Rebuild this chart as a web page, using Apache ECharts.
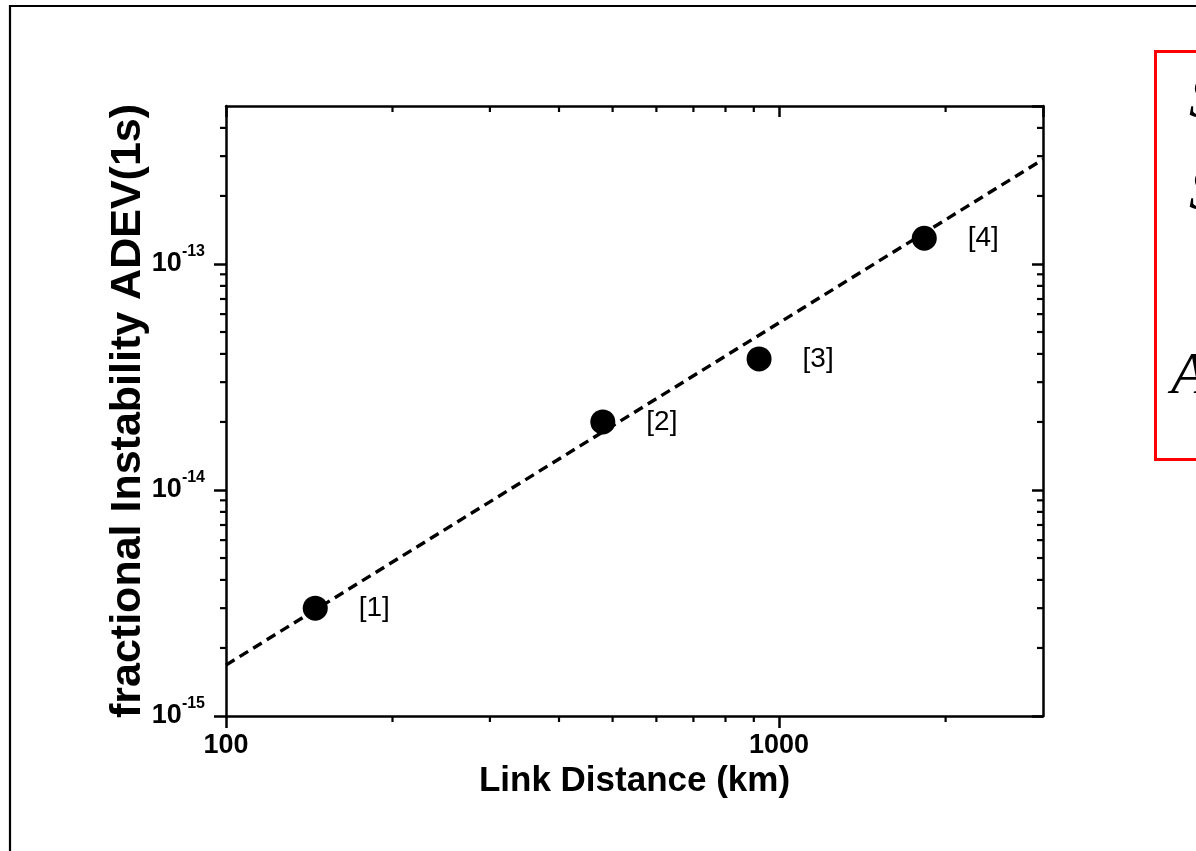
<!DOCTYPE html>
<html>
<head>
<meta charset="utf-8">
<title>Link Distance vs ADEV</title>
<script src="https://cdn.jsdelivr.net/npm/echarts@6/dist/echarts.min.js"></script>
<style>
  html, body { margin: 0; padding: 0; background: #ffffff; }
  #chart { width: 1196px; height: 851px; }
</style>
</head>
<body>
<div id="chart"></div>
<script>
// Measured links: distance (km) and fractional instability at 1 s
const distances = [145, 480, 920, 1830];
const adev = [3.0e-15, 2.0e-14, 3.8e-14, 1.3e-13];
const refLabels = ['[1]', '[2]', '[3]', '[4]'];

// Power-law trend line endpoints
const fitDistance = [100, 3000];
const fitAdev = [1.68e-15, 2.9e-13];

// Axis ranges and tick values
const xRange = [100, 3000];
const yRange = [1e-15, 5e-13];
const xMinorTicks = [200, 300, 400, 500, 600, 700, 800, 900, 2000];
const yMinorTicks = [
  2e-15, 3e-15, 4e-15, 5e-15, 6e-15, 7e-15, 8e-15, 9e-15,
  2e-14, 3e-14, 4e-14, 5e-14, 6e-14, 7e-14, 8e-14, 9e-14,
  2e-13, 3e-13, 4e-13
];
const xLabelValues = [100, 1000];

// Glyphs inside the annotation box on the right
const boxGlyphs = ['S', 'S', 'A'];

const chart = echarts.init(document.getElementById('chart'), null, { renderer: 'canvas' });

const AXIS_W = 2.5;
const black = '#000000';
const SANS = 'Liberation Sans, Arial, sans-serif';

function near(a, b) { return Math.abs(Math.log10(a) - Math.log10(b)) < 1e-6; }

const frameAxis = {
  axisLine: { show: true, lineStyle: { color: black, width: AXIS_W } },
  splitLine: { show: false },
  minorTick: { show: false },
  minorSplitLine: { show: false }
};

const option = {
  backgroundColor: '#ffffff',
  animation: false,
  grid: { left: 226, top: 106, right: 153, bottom: 135, containLabel: false },
  xAxis: [
    Object.assign({}, frameAxis, {
      type: 'log', logBase: 10, min: xRange[0], max: xRange[1], position: 'bottom',
      axisTick: { show: true, inside: false, length: 12, lineStyle: { color: black, width: AXIS_W } },
      axisLabel: {
        show: true, margin: 16, color: black, fontFamily: SANS,
        fontWeight: 'bold', fontSize: 27, showMaxLabel: false,
        formatter: function (v) {
          for (const t of xLabelValues) if (near(v, t)) return String(t);
          return '';
        }
      },
      name: 'Link Distance (km)', nameLocation: 'middle', nameGap: 44,
      nameTextStyle: { color: black, fontFamily: SANS, fontWeight: 'bold', fontSize: 35 }
    }),
    Object.assign({}, frameAxis, {
      type: 'log', logBase: 10, min: xRange[0], max: xRange[1], position: 'top',
      axisTick: { show: true, inside: true, length: 11, lineStyle: { color: black, width: AXIS_W } },
      axisLabel: { show: false }
    })
  ],
  yAxis: [
    Object.assign({}, frameAxis, {
      type: 'log', logBase: 10, min: yRange[0], max: yRange[1], position: 'left',
      axisTick: { show: true, inside: false, length: 12, lineStyle: { color: black, width: AXIS_W } },
      axisLabel: {
        show: true, margin: 21, color: black, showMaxLabel: false,
        formatter: function (v) {
          const e = Math.round(Math.log10(v));
          if (Math.abs(Math.log10(v) - e) > 1e-6) return '';
          return '{b|10}{s|' + e + '}';
        },
        rich: {
          b: { fontFamily: SANS, fontWeight: 'bold', fontSize: 27, color: black, lineHeight: 40, verticalAlign: 'middle' },
          s: { fontFamily: SANS, fontWeight: 'bold', fontSize: 16, color: black, lineHeight: 16, verticalAlign: 'top' }
        }
      },
      name: 'fractional Instability ADEV(1s)', nameLocation: 'middle', nameGap: 76, nameRotate: 90,
      nameMoveOverlap: false,
      nameTextStyle: { color: black, fontFamily: SANS, fontWeight: 'bold', fontSize: 43 }
    }),
    Object.assign({}, frameAxis, {
      type: 'log', logBase: 10, min: yRange[0], max: yRange[1], position: 'right',
      axisTick: { show: true, inside: true, length: 11, lineStyle: { color: black, width: AXIS_W } },
      axisLabel: { show: false }
    })
  ],
  series: [
    {
      // trend line
      type: 'line', xAxisIndex: 0, yAxisIndex: 0,
      data: fitDistance.map((d, i) => [d, fitAdev[i]]),
      showSymbol: false, symbol: 'none', silent: true,
      lineStyle: { color: black, width: 3.4, type: [10, 6], opacity: 1 },
      z: 3
    },
    {
      type: 'scatter', xAxisIndex: 0, yAxisIndex: 0,
      data: distances.map((d, i) => ({ value: [d, adev[i]], name: refLabels[i] })),
      symbol: 'circle', symbolSize: 25,
      itemStyle: { color: black, opacity: 1 },
      emphasis: { disabled: true },
      label: {
        show: true, position: 'right', distance: 31,
        formatter: function (p) { return p.name; },
        color: black, opacity: 1, fontFamily: SANS, fontSize: 28
      },
      z: 4
    },
    {
      // minor ticks on the x axes (outside at bottom, inside at top)
      type: 'custom', xAxisIndex: 0, yAxisIndex: 0, silent: true, clip: false,
      data: xMinorTicks.map(v => [v, yRange[0]]),
      renderItem: function (params, api) {
        const cs = params.coordSys;
        const x = api.coord([api.value(0), api.value(1)])[0];
        const bottom = cs.y + cs.height;
        const st = { stroke: black, lineWidth: 2.2 };
        return {
          type: 'group',
          children: [
            { type: 'line', shape: { x1: x, y1: bottom, x2: x, y2: bottom + 6 }, style: st },
            { type: 'line', shape: { x1: x, y1: cs.y, x2: x, y2: cs.y + 6 }, style: st }
          ]
        };
      },
      z: 5
    },
    {
      // minor ticks on the y axes (outside at left, inside at right)
      type: 'custom', xAxisIndex: 0, yAxisIndex: 0, silent: true, clip: false,
      data: yMinorTicks.map(v => [xRange[0], v]),
      renderItem: function (params, api) {
        const cs = params.coordSys;
        const y = api.coord([api.value(0), api.value(1)])[1];
        const right = cs.x + cs.width;
        const st = { stroke: black, lineWidth: 2.2 };
        return {
          type: 'group',
          children: [
            { type: 'line', shape: { x1: cs.x - 6, y1: y, x2: cs.x, y2: y }, style: st },
            { type: 'line', shape: { x1: right - 6, y1: y, x2: right, y2: y }, style: st }
          ]
        };
      },
      z: 5
    }
  ],
  graphic: [
    {
      // outer frame
      type: 'rect', silent: true, z: 0,
      shape: { x: 10, y: 6, width: 1400, height: 1000 },
      style: { fill: 'none', stroke: black, lineWidth: 2.2 }
    },
    {
      // annotation box
      type: 'rect', silent: true, z: 10,
      shape: { x: 1155.5, y: 51.5, width: 200, height: 408 },
      style: { fill: 'none', stroke: '#ff0000', lineWidth: 3 }
    },
    {
      type: 'text', silent: true, z: 10, x: 1189, y: 131,
      style: { text: boxGlyphs[0], font: 'italic 60px "Liberation Serif", serif', fill: black, align: 'left', verticalAlign: 'bottom' }
    },
    {
      type: 'text', silent: true, z: 10, x: 1189, y: 223,
      style: { text: boxGlyphs[1], font: 'italic 60px "Liberation Serif", serif', fill: black, align: 'left', verticalAlign: 'bottom' }
    },
    {
      type: 'text', silent: true, z: 10, x: 1171, y: 407,
      style: { text: boxGlyphs[2], font: 'italic 60px "Liberation Serif", serif', fill: black, align: 'left', verticalAlign: 'bottom' }
    }
  ]
};

chart.setOption(option);
</script>
</body>
</html>
